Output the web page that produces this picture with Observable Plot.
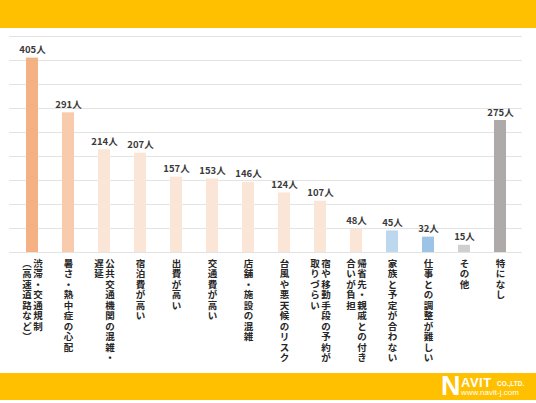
<!DOCTYPE html>
<html>
<head>
<meta charset="utf-8">
<script src="https://cdn.jsdelivr.net/npm/d3@7"></script>
<script src="https://cdn.jsdelivr.net/npm/@observablehq/plot@0.6"></script>
<style>
  html, body { margin: 0; padding: 0; background: #fff; }
  body { width: 536px; height: 403px; overflow: hidden; font-family: "Noto Sans CJK JP", "Noto Sans", sans-serif; }
  .band-top { height: 28px; background: #ffc000; }
  .band-bottom { position: relative; height: 27px; background: #ffc000; }
  #chart { height: 345px; }
  .logo { position: absolute; right: 5px; top: 3px; width: 90px; height: 22px; color: #fff; font-family: "Liberation Sans", Arial, sans-serif; font-weight: bold; }
  .logo .n { position: absolute; left: 0; top: -3px; font-size: 27px; line-height: 27px; }
  .logo .avit { position: absolute; left: 20px; top: 0px; font-size: 13px; line-height: 13px; letter-spacing: 0.5px; }
  .logo .co { position: absolute; left: 56px; top: 4px; font-size: 6.5px; line-height: 7px; }
  .logo .url { position: absolute; left: 20px; top: 12px; font-size: 8px; line-height: 9px; font-weight: normal; }
</style>
</head>
<body>
<div class="band-top"></div>
<div id="chart"></div>
<div class="band-bottom">
  <div class="logo"><span class="n">N</span><span class="avit">AVIT</span><span class="co">CO.,LTD.</span><span class="url">www.navit-j.com</span></div>
</div>
<script>
const categories = ["渋滞・交通規制", "暑さ・熱中症の心配", "公共交通機関の混雑・遅延", "宿泊費が高い", "出費が高い", "交通費が高い", "店舗・施設の混雑", "台風や悪天候のリスク", "宿や移動手段の予約が取りづらい", "帰省先・親戚との付き合いが負担", "家族と予定が合わない", "仕事との調整が難しい", "その他", "特になし"];
// each inner list: vertical text columns, right to left
const labelLines = [
  ["渋滞・交通規制", "︵高速道路など︶"],
  ["暑さ・熱中症の心配"],
  ["公共交通機関の混雑・", "遅延"],
  ["宿泊費が高い"],
  ["出費が高い"],
  ["交通費が高い"],
  ["店舗・施設の混雑"],
  ["台風や悪天候のリスク"],
  ["宿や移動手段の予約が", "取りづらい"],
  ["帰省先・親戚との付き", "合いが負担"],
  ["家族と予定が合わない"],
  ["仕事との調整が難しい"],
  ["その他"],
  ["特になし"]
];
const values = [405, 291, 214, 207, 157, 153, 146, 124, 107, 48, 45, 32, 15, 275];
const barColors = ["#f4b183", "#f8cbad", "#fbe5d6", "#fbe5d6", "#fbe5d6", "#fbe5d6", "#fbe5d6", "#fbe5d6", "#fbe5d6", "#fbe5d6", "#bdd7ee", "#9dc3e6", "#d0cece", "#aeaaaa"];
const yTicks = [0, 50, 100, 150, 200, 250, 300, 350, 400, 450];

const data = categories.map((c, i) => ({cat: c, value: values[i]}));
const lines = [];
labelLines.forEach((ls, i) => ls.forEach((t, j) => lines.push({cat: categories[i], text: Array.from(t).join("\n"), n: ls.length, j})));

const labelOpts = {x: "cat", text: "text", frameAnchor: "bottom", textAnchor: "middle", lineAnchor: "top", lineHeight: 1.1, dy: 7, fontSize: 9.5, fontWeight: "bold", fill: "#262626", fontFamily: "Noto Sans CJK JP"};

const plot = Plot.plot({
  width: 536,
  height: 345,
  marginLeft: 9,
  marginRight: 14,
  marginTop: 8,
  marginBottom: 121,
  x: {domain: categories, paddingInner: 0.67, paddingOuter: 0.335, axis: null},
  y: {domain: [0, 450], axis: null},
  color: {domain: categories, range: barColors},
  marks: [
    Plot.ruleY(yTicks, {stroke: "#e3e3e3", strokeWidth: 1}),
    Plot.barY(data, {x: "cat", y: "value", fill: "cat"}),
    Plot.text(data, {x: "cat", y: "value", text: d => d.value + "人", lineAnchor: "bottom", dy: -5, fontSize: 9.5, fontWeight: "bold", fill: "#3a3a3a", fontFamily: "Noto Sans CJK JP"}),
    Plot.text(lines.filter(d => d.n === 1), labelOpts),
    Plot.text(lines.filter(d => d.n === 2 && d.j === 0), {...labelOpts, dx: 5.5}),
    Plot.text(lines.filter(d => d.n === 2 && d.j === 1), {...labelOpts, dx: -5.5})
  ]
});
document.getElementById("chart").appendChild(plot);
</script>
</body>
</html>
